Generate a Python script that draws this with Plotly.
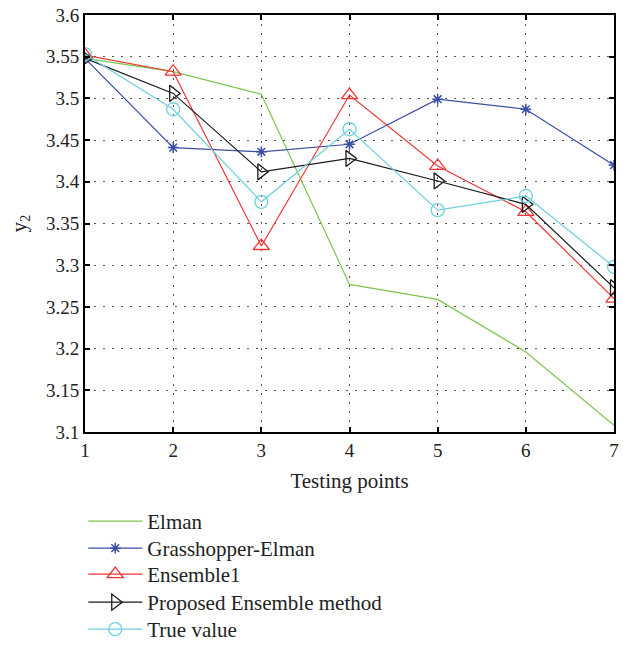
import plotly.graph_objects as go

x = [1, 2, 3, 4, 5, 6, 7]
elman = [3.548, 3.532, 3.505, 3.277, 3.259, 3.196, 3.108]
grasshopper = [3.548, 3.441, 3.436, 3.445, 3.499, 3.487, 3.420]
ensemble1 = [3.552, 3.532, 3.323, 3.504, 3.419, 3.364, 3.260]
proposed = [3.548, 3.506, 3.412, 3.428, 3.401, 3.373, 3.273]
true_value = [3.553, 3.487, 3.376, 3.463, 3.366, 3.383, 3.298]

xticks = [1, 2, 3, 4, 5, 6, 7]
yticks = [3.1, 3.15, 3.2, 3.25, 3.3, 3.35, 3.4, 3.45, 3.5, 3.55, 3.6]
ytick_text = ["3.1", "3.15", "3.2", "3.25", "3.3", "3.35", "3.4", "3.45", "3.5", "3.55", "3.6"]

FONT = "Liberation Serif"
TXT = "#222222"

fig = go.Figure()
fig.add_trace(go.Scatter(x=x, y=elman, mode="lines", name="Elman",
                         line=dict(color="#7cc64e", width=1.2), legend="legend"))
fig.add_trace(go.Scatter(x=x, y=grasshopper, mode="lines+markers", name="Grasshopper-Elman",
                         line=dict(color="#3a4ea6", width=1.2),
                         marker=dict(symbol="asterisk-open", size=9, color="#3a4ea6",
                                     line=dict(width=1.5, color="#3a4ea6")), legend="legend2"))
fig.add_trace(go.Scatter(x=x, y=ensemble1, mode="lines+markers", name="Ensemble1",
                         line=dict(color="#f03434", width=1.2),
                         marker=dict(symbol="triangle-up-open", size=14, color="#f03434",
                                     line=dict(width=1.3, color="#f03434")), legend="legend3"))
fig.add_trace(go.Scatter(x=x, y=proposed, mode="lines+markers", name="Proposed Ensemble method",
                         line=dict(color="#1a1a1a", width=1.2),
                         marker=dict(symbol="triangle-right-open", size=14, color="#1a1a1a",
                                     line=dict(width=1.3, color="#1a1a1a")), legend="legend4"))
fig.add_trace(go.Scatter(x=x, y=true_value, mode="lines+markers", name="True value",
                         line=dict(color="#6fd0de", width=1.2),
                         marker=dict(symbol="circle-open", size=13, color="#6fd0de",
                                     line=dict(width=1.3, color="#6fd0de")), legend="legend5"))

axis_common = dict(
    showline=True, linecolor="black", linewidth=2, mirror="ticks",
    ticks="inside", ticklen=5, tickcolor="black", tickwidth=1.5,
    showgrid=True, gridcolor="#555555", gridwidth=1, griddash="2px,7px",
    zeroline=False, tickfont=dict(family=FONT, size=19, color=TXT),
)

fig.update_xaxes(range=[1, 7], tickvals=xticks, ticktext=[str(v) for v in xticks],
                 title=dict(text="Testing points", font=dict(family=FONT, size=21, color=TXT),
                            standoff=14),
                 **axis_common)
fig.update_yaxes(range=[3.1, 3.6], tickvals=yticks, ticktext=ytick_text,
                 title=dict(text="y<sub>2</sub>", font=dict(family=FONT, size=21, color=TXT),
                            standoff=14),
                 **axis_common)

def leg(yv):
    return dict(x=-0.0033, y=yv, xanchor="left", yanchor="top",
                font=dict(family=FONT, size=21, color=TXT),
                itemwidth=54, bgcolor="rgba(0,0,0,0)")

fig.update_layout(
    width=623, height=646,
    margin=dict(l=85, r=9, t=15, b=214, autoexpand=False),
    paper_bgcolor="white", plot_bgcolor="white",
    showlegend=True,
    legend=leg(-0.1655),
    legend2=leg(-0.2302),
    legend3=leg(-0.2926),
    legend4=leg(-0.3597),
    legend5=leg(-0.4245),
)

fig.write_html("out.html")
